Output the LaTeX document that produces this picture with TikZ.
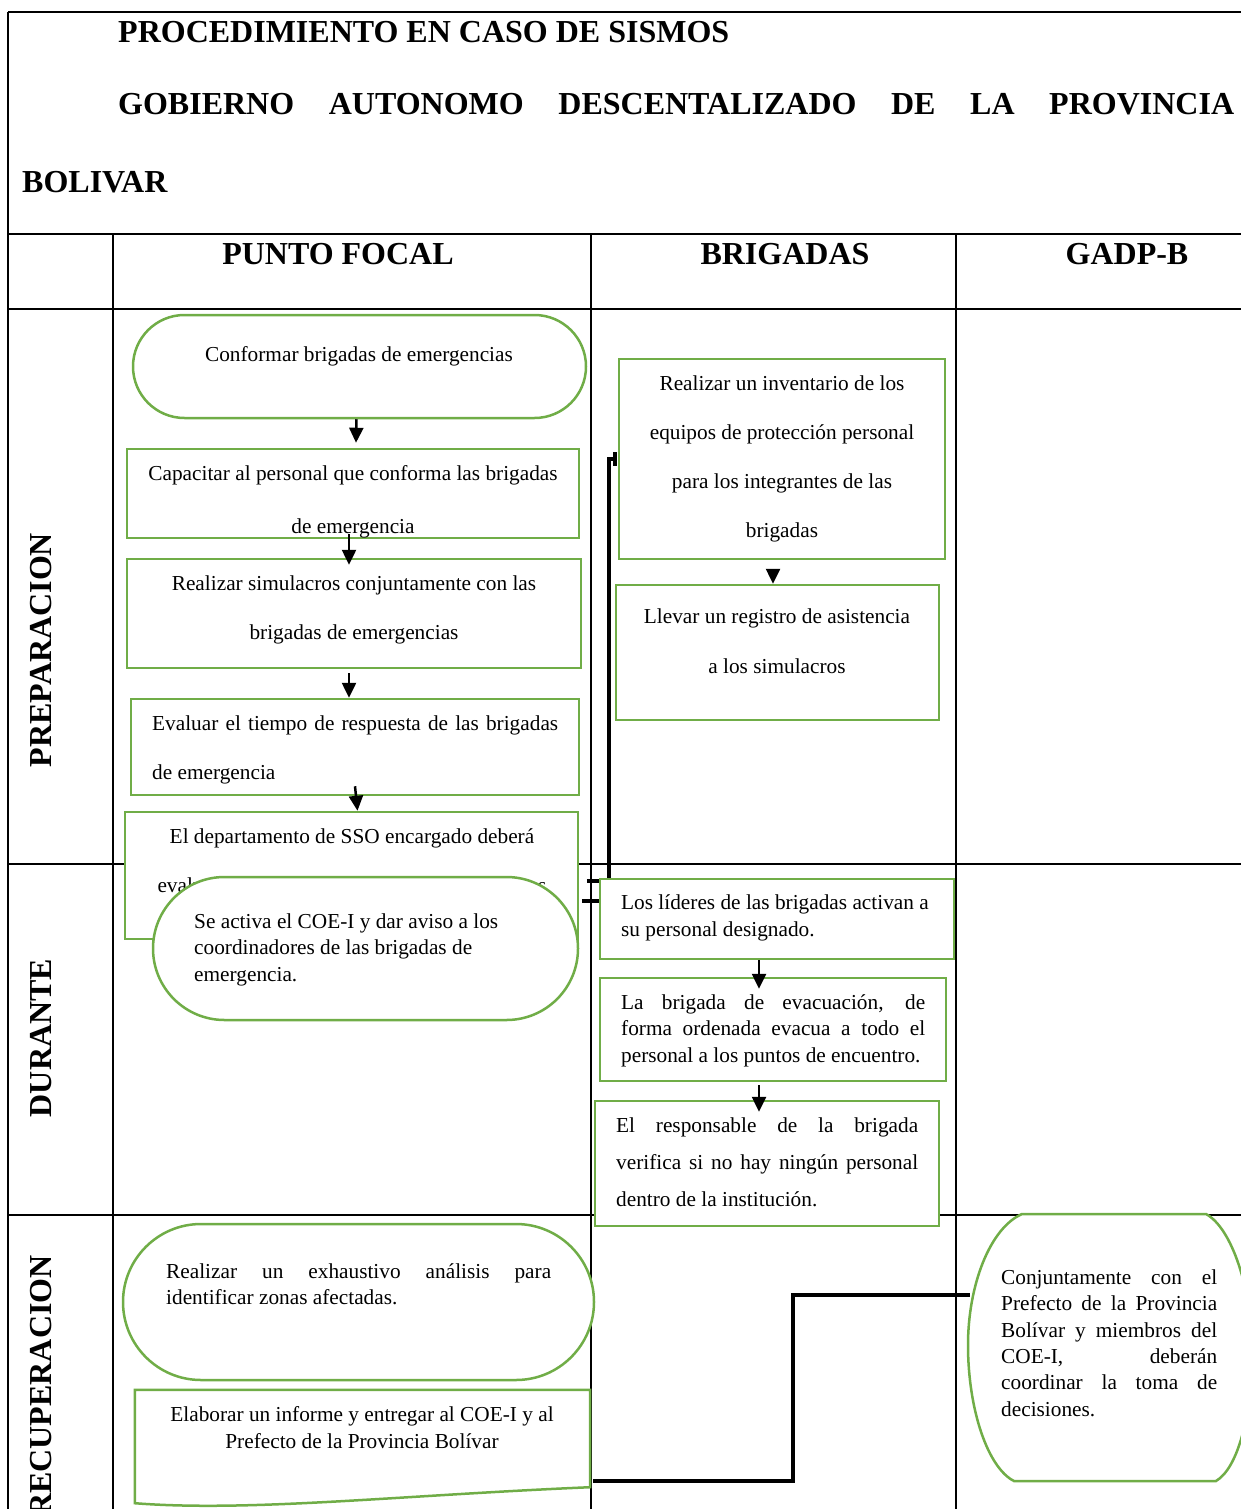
\documentclass[tikz,border=0pt]{standalone}
\usepackage{fontspec}
\setmainfont{Liberation Serif}
\usetikzlibrary{shapes.misc,arrows.meta,calc}
\definecolor{gr}{HTML}{70AD47}
\newcommand{\fs}{\vrule height 16pt depth 0pt width 0pt}
\newcommand{\jl}[2]{\makebox[#1pt][s]{#2}}
\begin{document}
\begin{tikzpicture}[x=1pt,y=-1pt,
  tbl/.style={line width=2pt},
  box/.style={draw=gr, line width=2.5pt, fill=white, inner sep=0pt},
  stad/.style={box, rounded rectangle},
  txt/.style={inner sep=0pt, font=\fontsize{21.3}{26.5}\selectfont},
  arr/.style={line width=2.5pt, -{Triangle[length=15pt,width=14pt]}},
  conn/.style={line width=3.5pt},
  hdr/.style={inner sep=0pt, font=\fontsize{32}{38}\selectfont\bfseries}]
\useasboundingbox (0,0) rectangle (1240,1509);
% table
\draw[tbl] (8,12) -- (1245,12);
\draw[tbl] (8,12) -- (8,1515);
\draw[tbl] (8,234) -- (1245,234);
\draw[tbl] (8,309) -- (1245,309);
\draw[tbl] (8,864) -- (1245,864);
\draw[tbl] (8,1215) -- (1245,1215);
\draw[tbl] (113,234) -- (113,1515);
\draw[tbl] (591,234) -- (591,1515);
\draw[tbl] (956,234) -- (956,1515);
% titles
\node[hdr, anchor=base west] (t1) at (118,42.5) {PROCEDIMIENTO EN CASO DE SISMOS};
\node[hdr, anchor=base west] (t2) at (118,115) {\makebox[1116pt][s]{GOBIERNO AUTONOMO DESCENTALIZADO DE LA PROVINCIA}};
\node[hdr, anchor=base west] (t3) at (22,192) {BOLIVAR};
\node[hdr, anchor=base] (h1) at (338,264) {PUNTO FOCAL};
\node[hdr, anchor=base] (h2) at (785,264) {BRIGADAS};
\node[hdr, anchor=base] (h3) at (1127,264) {GADP-B};
\node[hdr, rotate=90] (l1) at (41,650) {PREPARACION};
\node[hdr, rotate=90] (l2) at (41,1038) {DURANTE};
\node[hdr, rotate=90] (l3) at (41,1386) {RECUPERACION};
% punto focal
\node[stad, minimum width=453pt, minimum height=103pt] (s1) at (359.5,366.5) {};
\node[txt, anchor=north] (s1t) at (359,345) {\fs Conformar brigadas de emergencias};
\node[box, minimum width=452pt, minimum height=89pt] (r2) at (353,493.5) {};
\begin{scope}
\clip ($(r2.south west)+(1.25,-1.25)$) rectangle ($(r2.north east)+(-1.25,1.25)$);
\node[txt, anchor=north, align=center, font=\fontsize{21.3}{53}\selectfont] (r2t) at (353,464) {\fs Capacitar al personal que conforma las brigadas\\ de emergencia};
\end{scope}
\node[box, minimum width=454pt, minimum height=109pt] (r3) at (354,613.5) {};
\node[txt, anchor=north, align=center, font=\fontsize{21.3}{49}\selectfont] (r3t) at (354,574) {\fs Realizar simulacros conjuntamente con las\\ brigadas de emergencias};
\node[box, minimum width=448pt, minimum height=96pt] (r4) at (355,747) {};
\node[txt, anchor=north west, align=left, font=\fontsize{21.3}{49}\selectfont] (r4t) at (152,714) {\fs\jl{406}{Evaluar el tiempo de respuesta de las brigadas}\\ de emergencia};
\node[box, minimum width=453pt, minimum height=127pt] (r5) at (351.5,875.5) {};
\node[txt, anchor=north, align=center, font=\fontsize{21.3}{49}\selectfont] (r5t) at (352,827) {\fs El departamento de SSO encargado deberá\\ \jl{389}{evaluar los resultados de los simulacros}};
\node[stad, minimum width=425pt, minimum height=143pt] (s6) at (365.5,948.5) {};
\node[txt, anchor=north west, align=left] (s6t) at (194,912) {\fs Se activa el COE-I y dar aviso a los\\ coordinadores de las brigadas de\\ emergencia.};
% brigadas
\node[box, minimum width=326pt, minimum height=200pt] (r7) at (782,459) {};
\node[txt, anchor=north, align=center, font=\fontsize{21.3}{49}\selectfont] (r7t) at (782,374) {\fs Realizar un inventario de los\\ equipos de protección personal\\ para los integrantes de las\\ brigadas};
\node[box, minimum width=323pt, minimum height=135pt] (r8) at (777.5,652.5) {};
\node[txt, anchor=north, align=center, font=\fontsize{21.3}{50}\selectfont] (r8t) at (777,607) {\fs Llevar un registro de asistencia\\ a los simulacros};
\node[box, minimum width=354pt, minimum height=80pt] (r9) at (777,919) {};
\node[txt, anchor=north west, align=left, font=\fontsize{21.3}{27}\selectfont] (r9t) at (621,893) {\fs Los líderes de las brigadas activan a\\ su personal designado.};
\node[box, minimum width=346pt, minimum height=103pt] (r10) at (773,1029.5) {};
\node[txt, anchor=north west, align=left] (r10t) at (621,993) {\fs\jl{304}{La brigada de evacuación, de}\\ \jl{304}{forma ordenada evacua a todo el}\\ personal a los puntos de encuentro.};
\node[box, minimum width=344pt, minimum height=125pt] (r11) at (767,1163.5) {};
\node[txt, anchor=north west, align=left, font=\fontsize{21.3}{37}\selectfont] (r11t) at (616,1116) {\fs\jl{302}{El responsable de la brigada}\\ \jl{302}{verifica si no hay ningún personal}\\ dentro de la institución.};
% recuperacion
\node[stad, minimum width=471pt, minimum height=156pt] (s12) at (358.5,1302) {};
\node[txt, anchor=north west, align=left] (s12t) at (166,1262) {\fs\jl{385}{Realizar un exhaustivo análisis para}\\ identificar zonas afectadas.};
\node[inner sep=0pt, minimum width=455pt, minimum height=97pt] (doc) at (362.5,1438.5) {};
\draw[draw=gr, line width=2.5pt, fill=white] (doc.north west) -- (doc.north east) -- (doc.south east)
  .. controls +(-190,8) and +(115,9) .. ([yshift=-16pt]doc.south west) -- cycle;
\node[txt, anchor=north, align=center, font=\fontsize{21.3}{27}\selectfont] (doct) at (362,1405) {\fs Elaborar un informe y entregar al COE-I y al\\ Prefecto de la Provincia Bolívar};
\node[inner sep=0pt, minimum width=282pt, minimum height=267pt] (conj) at (1109,1347.5) {};
\draw[draw=gr, line width=2.5pt, fill=white] (1022,1214) -- (1206,1214)
  .. controls (1232,1228) and (1252,1290) .. (1252,1350)
  .. controls (1252,1415) and (1238,1468) .. (1216,1481) -- (1014,1481)
  .. controls (988,1468) and (968,1410) .. (968,1345)
  .. controls (968,1285) and (990,1228) .. (1022,1214) -- cycle;
\node[txt, anchor=north west, align=left, font=\fontsize{21.3}{26.4}\selectfont] (conjt) at (1001,1268) {\fs\jl{216}{Conjuntamente con el}\\ \jl{216}{Prefecto de la Provincia}\\ \jl{216}{Bolívar y miembros del}\\ \jl{216}{COE-I, deberán}\\ \jl{216}{coordinar la toma de}\\ decisiones.};
% connectors
\draw[arr] ([xshift=-3pt]s1.south) -- ([xshift=3pt,yshift=5pt]r2.north);
\draw[arr] ([xshift=-4pt,yshift=5pt]r2.south) -- ([xshift=-5pt,yshift=-7pt]r3.north);
\draw[arr] ([xshift=-5pt,yshift=-4pt]r3.south) -- ([xshift=-6pt]r4.north);
\draw[arr] ([yshift=10pt]r4.south) -- ([xshift=6pt]r5.north);
\draw[arr] ([xshift=-9pt,yshift=-9pt]r7.south) -- ([xshift=-4.5pt]r8.north);
\draw[arr] ([xshift=-18pt]r9.south) -- ([xshift=-14pt,yshift=-12pt]r10.north);
\draw[arr] ([xshift=-14pt,yshift=-3pt]r10.south) -- ([xshift=-8pt,yshift=-12pt]r11.north);
\draw[conn, -{Bar[width=14pt]}] ([xshift=10pt]r9.north west) |- ([xshift=-1pt]r7.west);
\draw[conn] ([xshift=-12pt,yshift=-3pt]r9.north west) -- ([yshift=-3pt]r9.north west);
\draw[conn] ([xshift=-17pt,yshift=-23pt]r9.north west) -- ([yshift=-23pt]r9.north west);
\draw[conn] ([xshift=3pt,yshift=6pt]doc.south east) -- ++(200,0) |- ([xshift=2pt,yshift=52.5pt]conj.west);
\end{tikzpicture}
\end{document}
